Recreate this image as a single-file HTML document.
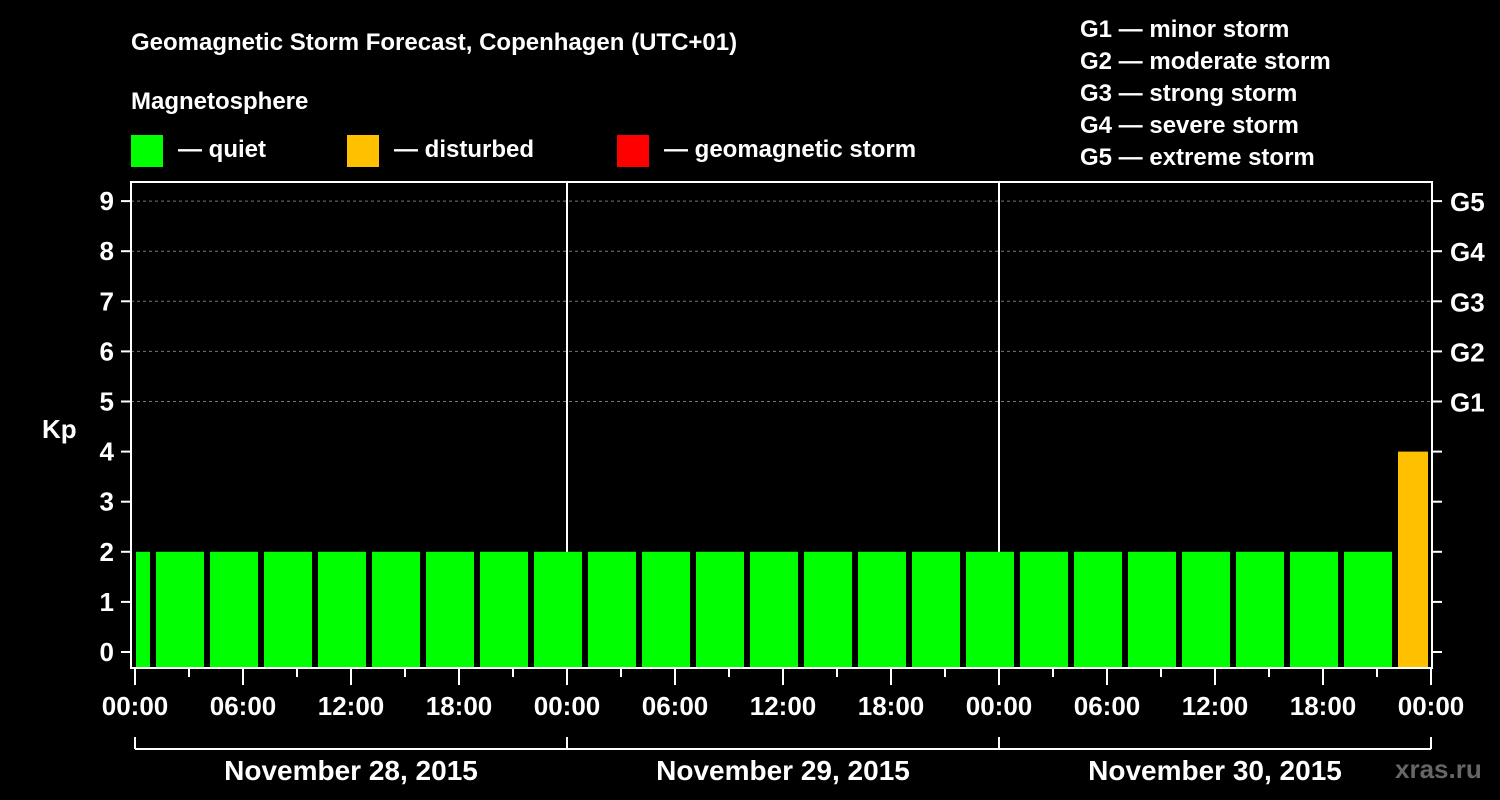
<!DOCTYPE html>
<html><head><meta charset="utf-8"><style>
body{margin:0;background:#000;}
svg{display:block;font-family:"Liberation Sans",Arial,sans-serif;font-weight:bold;}
</style></head><body>
<svg id="c" width="1500" height="800" viewBox="0 0 1500 800">
<rect width="1500" height="800" fill="#000"/>
<text x="131" y="50" fill="#fff" font-size="24">Geomagnetic Storm Forecast, Copenhagen (UTC+01)</text>
<text x="131" y="109" fill="#fff" font-size="24">Magnetosphere</text>
<g><rect x="131" y="135" width="32" height="32" fill="#00ff00"/><text x="178" y="157" fill="#fff" font-size="24">— quiet</text></g>
<g><rect x="347" y="135" width="32" height="32" fill="#ffc000"/><text x="394" y="157" fill="#fff" font-size="24">— disturbed</text></g>
<g><rect x="617" y="135" width="32" height="32" fill="#ff0000"/><text x="664" y="157" fill="#fff" font-size="24">— geomagnetic storm</text></g>
<g fill="#fff" font-size="24">
<text x="1080" y="37">G1 — minor storm</text>
<text x="1080" y="69">G2 — moderate storm</text>
<text x="1080" y="101">G3 — strong storm</text>
<text x="1080" y="133">G4 — severe storm</text>
<text x="1080" y="165">G5 — extreme storm</text>
</g>
<text x="42" y="438" fill="#fff" font-size="26">Kp</text>
<text x="1395" y="778" fill="#666" font-size="26">xras.ru</text>
<g id="grid"></g><g id="bars"></g><g id="axes"></g>
</svg>
<script>
const kpValues=[2,2,2,2,2,2,2,2,2,2,2,2,2,2,2,2,2,2,2,2,2,2,2,2,4];
const yTicks=[0,1,2,3,4,5,6,7,8,9];
const gLabels=["G1","G2","G3","G4","G5"];
const gLevels=[5,6,7,8,9];
const xTickLabels=["00:00","06:00","12:00","18:00","00:00","06:00","12:00","18:00","00:00","06:00","12:00","18:00","00:00"];
const dayLabels=["November 28, 2015","November 29, 2015","November 30, 2015"];
const NS="http://www.w3.org/2000/svg";
const X0=135,HOUR=18,PL=131,PR=1432,PT=182,PB=668;
const y=v=>652-v*50.1;
const xh=h=>X0+h*HOUR;
function mk(t,a,p){const e=document.createElementNS(NS,t);for(const k in a)e.setAttribute(k,a[k]);p.appendChild(e);return e;}
const grid=document.getElementById('grid'),bars=document.getElementById('bars'),axes=document.getElementById('axes');
gLevels.forEach(v=>{const l=mk('line',{x1:PL,x2:PR,y1:y(v),y2:y(v),stroke:'#777','stroke-dasharray':'3,3'},grid);

});
[1,2].forEach(d=>{const l=mk('line',{x1:xh(24*d),x2:xh(24*d),y1:PT,y2:PB,stroke:'#fff','stroke-width':2},grid);

});
kpValues.forEach((v,i)=>{
 let s,e;
 if(i===0){s=xh(0)+1;e=xh(1)-3;}
 else{s=xh(1+3*(i-1))+3;e=Math.min(xh(1+3*i)-3,xh(72)-3);}
 const c=v>=5?'#ff0000':(v>=4?'#ffc000':'#00ff00');
 const r=mk('rect',{x:s,y:y(v),width:e-s,height:PB-y(v),fill:c},bars);
 
 
});
const fr=mk('rect',{x:PL,y:PT,width:PR-PL,height:PB-PT,fill:'none',stroke:'#fff','stroke-width':2},axes);


yTicks.forEach(v=>{
 mk('line',{x1:121,x2:PL,y1:y(v),y2:y(v),stroke:'#fff','stroke-width':2},axes);
 mk('line',{x1:PR,x2:PR+10,y1:y(v),y2:y(v),stroke:'#fff','stroke-width':2},axes);
 const t=mk('text',{x:114,y:y(v)+9,fill:'#fff','font-size':26,'text-anchor':'end'},axes);t.textContent=v;
 
 
});
gLevels.forEach((v,i)=>{const t=mk('text',{x:1450,y:y(v)+10,fill:'#fff','font-size':26},axes);t.textContent=gLabels[i];
 
 });
for(let h=0;h<=72;h+=3){const maj=h%6===0;mk('line',{x1:xh(h),x2:xh(h),y1:PB,y2:PB+(maj?17:9),stroke:'#fff','stroke-width':2},axes);}
xTickLabels.forEach((s,i)=>{const t=mk('text',{x:xh(6*i),y:715,fill:'#fff','font-size':26,'text-anchor':'middle'},axes);t.textContent=s;
 
 });
mk('line',{x1:xh(0),x2:xh(72),y1:749,y2:749,stroke:'#fff','stroke-width':2},axes);
for(let d=0;d<=3;d++)mk('line',{x1:xh(24*d),x2:xh(24*d),y1:737,y2:749,stroke:'#fff','stroke-width':2},axes);
dayLabels.forEach((s,i)=>{const t=mk('text',{x:xh(24*i+12),y:780,fill:'#fff','font-size':28,'text-anchor':'middle'},axes);t.textContent=s;
 
 });
</script>
</body></html>
